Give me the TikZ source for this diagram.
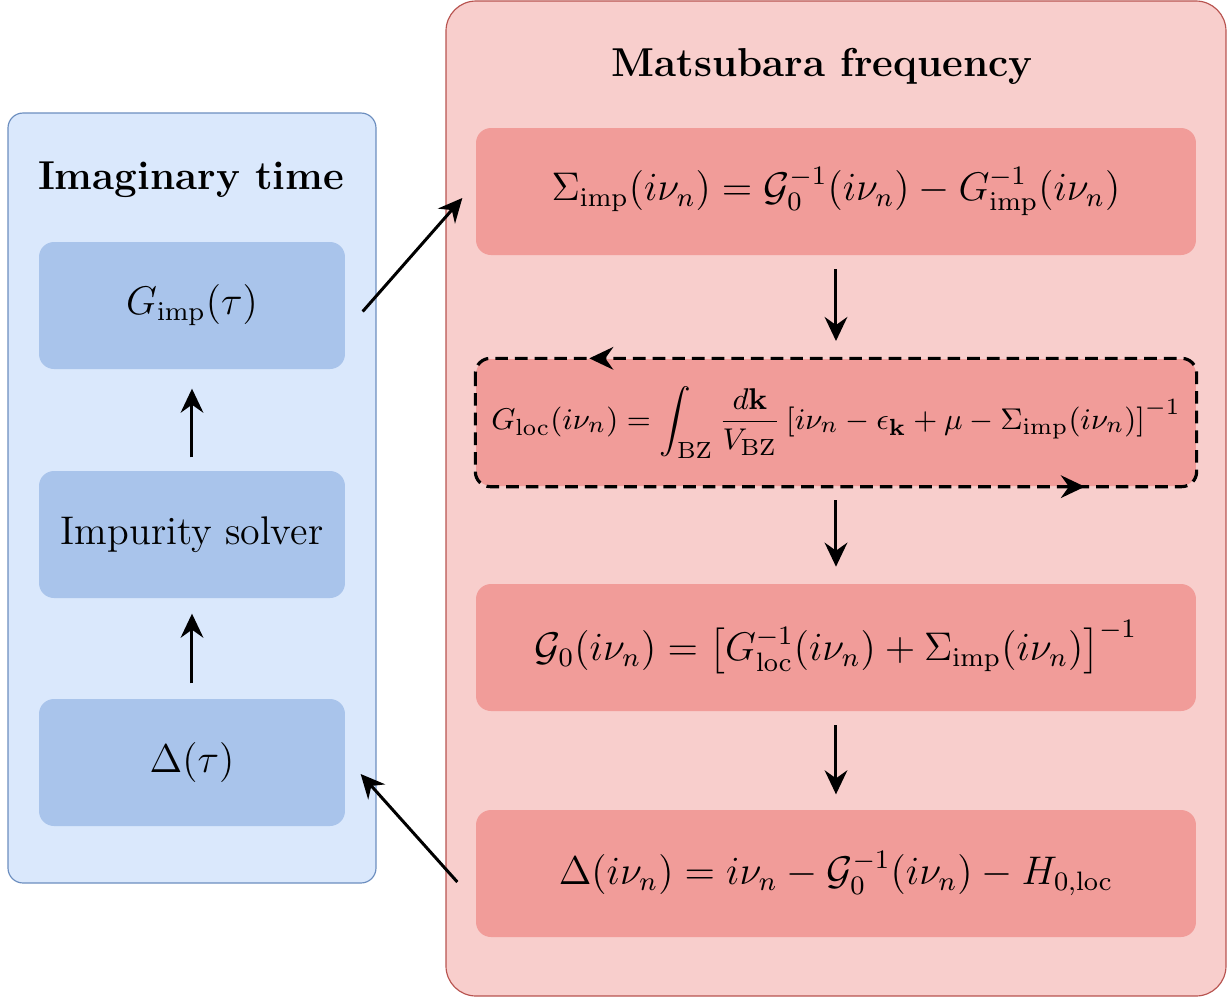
\documentclass[tikz,border=0pt]{standalone}
\usepackage{amsmath}
\usepackage{amssymb}
\usepackage{tikz}
\usetikzlibrary{arrows.meta, calc, positioning}
\definecolor{panelblue}{HTML}{DAE8FC}
\definecolor{edgeblue}{HTML}{6C8EBF}
\definecolor{boxblue}{HTML}{A9C4EB}
\definecolor{panelred}{HTML}{F8CECC}
\definecolor{edgered}{HTML}{B85450}
\definecolor{boxred}{HTML}{F19C99}
\tikzset{
	bigfont/.style={font=\fontsize{11.5}{14}\selectfont}
}
\tikzset{
	titlefont/.style={font=\fontsize{12.1}{14}\selectfont\bfseries}
}
\tikzset{
	bluepanel/.style={draw=edgeblue, fill=panelblue, line width=0.35pt, rounded corners=4.5pt,
		minimum width=110.4pt, minimum height=231pt, inner sep=0pt},
	redpanel/.style={draw=edgered, fill=panelred, line width=0.35pt, rounded corners=9pt,
		minimum width=234pt, minimum height=298.5pt, inner sep=0pt},
	bluebox/.style={bigfont, fill=boxblue, rounded corners=4.5pt,
		minimum width=91.8pt, minimum height=38.1pt, inner sep=0pt},
	redbox/.style={bigfont, fill=boxred, rounded corners=4.5pt,
		minimum width=216pt, minimum height=38.1pt, inner sep=0pt},
	flow/.style={-{Stealth[length=7.2pt, width=6.8pt, inset=2.4pt]}, line width=0.9pt},
	dashloop/.style={draw, line width=0.95pt, dash pattern=on 3.8pt off 2.1pt}
}

\begin{document}
\begin{tikzpicture}[x=0.3pt, y=-0.3pt]
      \useasboundingbox (0,0) rectangle (1230,997);

      % the two panels
      \node[bluepanel] (timepanel) at (192,498) {};
      \node[redpanel] (freqpanel) at (836,498.5) {};
      \node[titlefont] (timetitle) at (191,180) {Imaginary time};
      \node[titlefont] (freqtitle) at (822,66) {Matsubara frequency};

      % imaginary time side
      \node[bluebox] (gimp) at (192,305.5) {$G_{\mathrm{imp}}(\tau)$};
      \node[bluebox, font=\fontsize{12}{14}\selectfont] (solver) at (192,534.5) {Impurity solver};
      \node[bluebox] (hybtau) at (192,762.5) {$\Delta(\tau)$};

      % Matsubara side
      \node[redbox] (sigma) at (836,191.5)
        {$\Sigma_{\mathrm{imp}}(i\nu_n) = \mathcal{G}_0^{-1}(i\nu_n) - G_{\mathrm{imp}}^{-1}(i\nu_n)$};
      \node[redbox, font=\fontsize{9.5}{12}\selectfont] (gloc) at (836,422.5)
        {$\displaystyle G_{\mathrm{loc}}(i\nu_n) = \int_{\mathrm{BZ}} \frac{d\mathbf{k}}{V_{\mathrm{BZ}}}\,
          [i\nu_n - \epsilon_{\mathbf{k}} + \mu - \Sigma_{\mathrm{imp}}(i\nu_n)]^{-1}$};
      \node[redbox] (weiss) at (836,647.5)
        {$\mathcal{G}_0(i\nu_n) = \bigl[G_{\mathrm{loc}}^{-1}(i\nu_n) + \Sigma_{\mathrm{imp}}(i\nu_n)\bigr]^{-1}$};
      \node[redbox] (hybfreq) at (836,873.5)
        {$\Delta(i\nu_n) = i\nu_n - \mathcal{G}_0^{-1}(i\nu_n) - H_{0,\mathrm{loc}}$};

      % dashed loop round the k-sum
      \draw[dashloop, rounded corners=4.5pt] (gloc.north west) rectangle (gloc.south east);
      \draw[flow] ($(gloc.north west)!0.17!(gloc.north east)$) -- ($(gloc.north west)!0.158!(gloc.north east)$);
      \draw[flow] ($(gloc.south west)!0.83!(gloc.south east)$) -- ($(gloc.south west)!0.845!(gloc.south east)$);

      % flow of the loop
      \draw[flow, shorten <=3.9pt, shorten >=5.7pt] (solver) -- (gimp);
      \draw[flow, shorten <=4.5pt, shorten >=4.5pt] (hybtau) -- (solver);
      \draw[flow] ($(gimp.east)+(17,6)$) -- ($(sigma.west)+(-13,6.5)$);
      \draw[flow, shorten <=4pt, shorten >=5.2pt] (sigma) -- (gloc);
      \draw[flow, shorten <=4pt, shorten >=5pt] (gloc) -- (weiss);
      \draw[flow, shorten <=4pt, shorten >=4.5pt] (weiss) -- (hybfreq);
      \draw[flow] ($(hybfreq.west)+(-18,8.5)$) -- ($(hybtau.east)+(15,11.5)$);
    \end{tikzpicture}
\end{document}
